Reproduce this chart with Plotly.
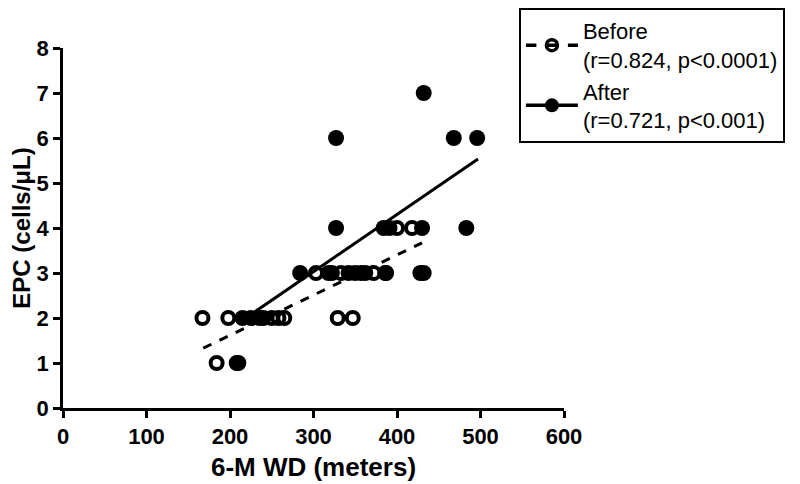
import plotly.graph_objects as go

# ---- data ----
before_x = [184, 208, 167, 198, 240, 250, 258, 265, 329, 347,
            303, 318, 333, 350, 362, 372, 387, 432, 400, 418]
before_y = [1, 1, 2, 2, 2, 2, 2, 2, 2, 2,
            3, 3, 3, 3, 3, 3, 3, 3, 4, 4]

after_x = [210, 215, 225, 235, 284, 322, 342, 357, 386, 428,
           327, 384, 391, 430, 483, 327, 468, 496, 432]
after_y = [1, 2, 2, 2, 3, 3, 3, 3, 3, 3,
           4, 4, 4, 4, 4, 6, 6, 6, 7]

# regression fits (slope, intercept, x-range) as drawn in the reference
before_fit = {"slope": 0.00893, "intercept": -0.17, "xmin": 168, "xmax": 430}
after_fit = {"slope": 0.0127, "intercept": -0.78, "xmin": 215, "xmax": 497}

before_label = "Before<br>(r=0.824, p<0.0001)"
after_label = "After<br>(r=0.721, p<0.001)"

x_ticks = [0, 100, 200, 300, 400, 500, 600]
y_ticks = [0, 1, 2, 3, 4, 5, 6, 7, 8]

FONT = "Arial, 'Liberation Sans', sans-serif"


def fit_line(f):
    xs = [f["xmin"], f["xmax"]]
    ys = [f["slope"] * v + f["intercept"] for v in xs]
    return xs, ys


fig = go.Figure()

bx, by = fit_line(before_fit)
ax, ay = fit_line(after_fit)

fig.add_trace(go.Scatter(x=bx, y=by, mode="lines", showlegend=False,
                         line=dict(color="black", width=3, dash="dash")))
fig.add_trace(go.Scatter(x=ax, y=ay, mode="lines", showlegend=False,
                         line=dict(color="black", width=3)))

fig.add_trace(go.Scatter(x=after_x, y=after_y, mode="markers", showlegend=False,
                         marker=dict(symbol="circle", size=16, color="black",
                                     line=dict(width=0))))
fig.add_trace(go.Scatter(x=before_x, y=before_y, mode="markers", showlegend=False,
                         marker=dict(symbol="circle-open", size=12, color="black",
                                     line=dict(width=4, color="black"))))

# legend entries
fig.add_trace(go.Scatter(x=[None], y=[None], mode="lines+markers", name=before_label,
                         line=dict(color="black", width=3.5, dash="dash"),
                         marker=dict(symbol="circle-open", size=11, color="black",
                                     line=dict(width=3.5, color="black"))))
fig.add_trace(go.Scatter(x=[None], y=[None], mode="lines+markers", name=after_label,
                         line=dict(color="black", width=3.5),
                         marker=dict(symbol="circle", size=14, color="black")))

fig.update_layout(
    width=792, height=476,
    margin=dict(l=55, r=236, t=40, b=76, autoexpand=False),
    paper_bgcolor="white", plot_bgcolor="white",
    font=dict(family=FONT, color="black"),
    showlegend=True,
    legend=dict(x=0.910, y=1.111, xanchor="left", yanchor="top",
                bordercolor="black", borderwidth=2, bgcolor="white",
                font=dict(family=FONT, size=22, color="black"),
                itemwidth=52, traceorder="normal"),
)

fig.update_xaxes(range=[0, 600], tickvals=x_ticks, ticktext=[f"<b>{v}</b>" for v in x_ticks],
                 showgrid=False, zeroline=False, showline=True, linecolor="black", linewidth=2.5,
                 ticks="outside", ticklen=7, tickwidth=2.5, tickcolor="black", automargin=False,
                 tickfont=dict(family=FONT, size=22, color="black"),
                 title=dict(text="<b>6-M WD (meters)</b>", font=dict(family=FONT, size=26), standoff=10))
fig.update_yaxes(range=[0, 8], tickvals=y_ticks, ticktext=[f"<b>{v}</b>" for v in y_ticks],
                 showgrid=False, zeroline=False, showline=True, linecolor="black", linewidth=2.5,
                 ticks="outside", ticklen=7, tickwidth=2.5, tickcolor="black", automargin=False,
                 tickfont=dict(family=FONT, size=22, color="black"),
                 title=dict(text="<b>EPC (cells/μL)</b>", font=dict(family=FONT, size=24), standoff=11))

fig.write_html("out.html")
